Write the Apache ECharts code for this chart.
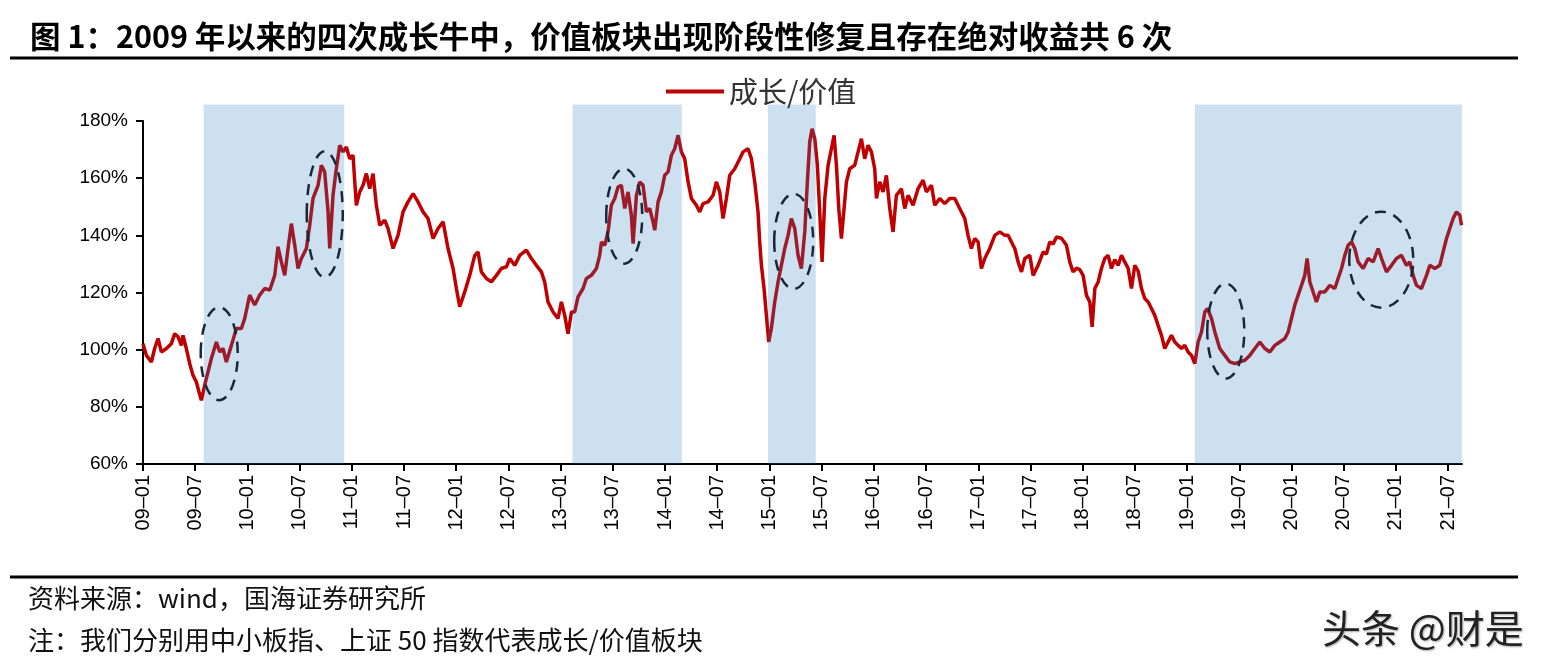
<!DOCTYPE html>
<html>
<head>
<meta charset="utf-8">
<title>成长/价值</title>
<script src="https://cdn.jsdelivr.net/npm/echarts@6/dist/echarts.min.js"></script>
<style>
  html, body { margin: 0; padding: 0; background: #fff; }
  #chart { width: 1546px; height: 670px; }
</style>
</head>
<body>
<div id="chart"></div>
<script>
// months since 2009-01 (x) and 成长/价值 ratio in % (y)
const months = [
  0, 0.39, 0.96, 1.34, 1.73, 2.11, 2.69, 3.26, 3.64, 4.03, 4.41, 4.6, 4.98, 5.37, 5.75, 6.13, 6.44, 6.71,
  7.09, 7.47, 7.86, 8.43, 8.82, 9.2, 9.58, 10.16, 10.73, 11.31, 11.69, 12.26, 12.84, 13.41, 13.99, 14.56,
  15.14, 15.52, 15.9, 16.29, 16.67, 17.05, 17.44, 17.82, 18.2, 18.78, 19.16, 19.54, 20.12, 20.5, 20.88,
  21.27, 21.46, 21.84, 22.22, 22.61, 22.99, 23.37, 23.76, 24.14, 24.52, 24.91, 25.29, 25.67, 26.06, 26.44,
  26.82, 27.21, 27.78, 28.16, 28.74, 29.31, 29.89, 30.46, 31.04, 31.61, 32.19, 32.76, 33.34, 33.91, 34.49,
  35.06, 35.64, 36.02, 36.4, 36.98, 37.55, 38.13, 38.51, 38.89, 39.47, 40.04, 40.62, 41.19, 41.77, 42.15,
  42.72, 43.3, 44.06, 44.64, 45.21, 45.79, 46.17, 46.55, 47.13, 47.7, 48.09, 48.47, 48.85, 49.24,
  49.62, 50.0, 50.58, 50.96, 51.54, 52.11, 52.49, 52.69, 53.07, 53.45, 53.83, 54.22, 54.6, 54.98, 55.37,
  55.75, 56.13, 56.33, 56.71, 57.09, 57.47, 57.86, 58.24, 58.62, 58.82, 59.2, 59.58, 59.96, 60.35, 60.73,
  61.11, 61.5, 61.88, 62.26, 62.65, 63.03, 63.6, 63.99, 64.37, 64.95, 65.52, 65.9, 66.29, 66.67, 67.05,
  67.44, 68.01, 68.59, 68.97, 69.54, 69.93, 70.31, 70.69, 70.88, 71.08, 71.38, 71.65, 71.92, 72.22, 72.61,
  72.99, 73.37, 73.76, 74.14, 74.52, 74.91, 75.29, 75.67, 76.06, 76.36, 76.63, 76.9, 77.21, 77.51, 77.78,
  78.05, 78.36, 78.74, 79.12, 79.43, 79.7, 79.97, 80.27, 80.58, 80.85, 81.23, 81.8, 82.19, 82.57, 82.95,
  83.34, 83.72, 84.1, 84.3, 84.68, 85.06, 85.44, 85.83, 86.21, 86.59, 87.17, 87.55, 87.93, 88.51, 89.08,
  89.66, 90.04, 90.62, 91.0, 91.57, 92.15, 92.72, 93.3, 93.87, 94.45, 94.83, 95.21, 95.6, 95.98, 96.36,
  96.75, 97.32, 97.9, 98.47, 99.05, 99.43, 100.0,
  100.2, 100.58, 100.97, 101.35, 101.92, 102.31, 102.88, 103.46, 103.84, 104.22, 104.61, 104.99, 105.56,
  106.14, 106.52, 106.9, 107.29, 107.67, 108.05, 108.44, 108.82, 109.09, 109.4, 109.78, 110.16, 110.54,
  110.93, 111.31, 111.69, 112.08, 112.46, 112.84, 113.23, 113.61, 113.99, 114.38, 114.76, 115.14, 115.53,
  115.91, 116.29, 116.67, 117.06, 117.44, 117.82, 118.21, 118.59, 118.97, 119.36, 119.74, 120.12, 120.51,
  120.89, 121.27, 121.66, 122.04, 122.35, 122.81, 123.19, 123.76, 124.34, 124.91, 125.49, 126.06, 126.64,
  127.21, 127.79, 128.36, 128.94, 129.51, 130.09, 130.66, 131.24, 131.62, 132.0, 132.38, 132.77, 133.15,
  133.53, 133.8, 134.11, 134.49, 134.87, 135.26, 135.83, 136.41, 136.98, 137.36, 137.75, 138.13, 138.51,
  138.9, 139.28, 139.66, 140.24, 140.81, 141.39, 141.96, 142.35, 142.92, 143.5, 144.07, 144.64, 145.22,
  145.6, 145.98, 146.37, 146.94, 147.52, 147.9, 148.48, 149.05, 149.43, 149.82, 150.2, 150.58, 150.96,
  151.35, 151.54
]
const ratio = [
  102.1, 98, 95.7, 100.4, 103.9, 99.2, 100.4, 102.1, 105.6, 104.5, 101.5, 105, 100.4, 95.1, 91, 88.7, 85.2, 82.3,
  87.6, 92.2, 96.9, 102.7, 99.2, 100.4, 95.7, 101.5, 107.4, 107.4, 110.9, 119.1, 115.6, 119.1, 121.4, 120.8,
  126, 136, 130.7, 126, 135.4, 144.1, 136.5, 128.4, 131.9, 135.4, 143.5, 152.9, 157.5, 164.5, 162.2,
  148.2, 135.4, 154, 163.3, 171.5, 169.2, 170.9, 166.8, 168, 150.5, 155.2, 157.5, 161.6, 156.3, 161.6,
  150.5, 143.5, 145.3, 142.4, 135.4, 140, 148.2, 151.7, 154.6, 151.7, 148.2, 145.9, 138.9, 142.4, 144.7,
  135.4, 128.4, 121.4, 115, 120.2, 126, 133, 134.2, 127.2, 124.9, 123.7, 126, 128.4, 129, 131.9,
  129.5, 133, 134.8, 131.9, 129.5, 127.2, 123.7, 116.7, 113.2, 110.9, 116.7, 112, 105.6, 113.2,
  113.2, 118.5, 121.4, 124.9, 126, 128.4, 133, 137.7, 136.5, 141.2, 150.5, 152.9, 156.9, 157.5, 149.4,
  155.2, 147, 137.1, 154, 158.7, 157.5, 148.2, 149.4, 144.7, 141.8, 151.7, 155.2, 161, 162.2, 168,
  170.3, 175, 169.2, 166.8, 158.7, 152.9, 150.5, 148.2, 151.1, 151.7, 154, 158.7, 155.2, 145.9, 152.9,
  161, 163.3, 166.8, 169.2, 170.3, 166.8, 158.7, 148.2, 137.7, 129.5, 121.4, 112, 102.7, 107.4, 116.7,
  123.7, 129.5, 135.4, 140, 145.9, 142.4, 133, 128.4, 141.2, 158.7, 172.7, 177.3, 173.8, 164.5, 148.2,
  130.7, 152.9, 164.5, 170.3, 175, 164.5, 149.4, 138.9, 149.4, 158.7, 163.3, 164.5, 169.2, 173.8, 166.8,
  171.5, 169.2, 163.3, 152.9, 158.7, 155.2, 161, 149.4, 141.2, 154, 156.3, 149.4, 154, 150.5, 156.3,
  159.3, 155.2, 157.5, 150.5, 152.9, 151.1, 152.9, 152.9, 149.4, 145.9, 140, 135.4, 138.9, 137.7, 128.4,
  131.9, 135.4, 140, 141.2, 140, 140, 136.5,
  135.4, 130.7, 127.2, 131.9, 133, 126, 129.5, 134.2, 133.5, 137.7, 137, 139.4, 139, 136.5, 130.7,
  127.2, 128.5, 128, 126, 119, 116.7, 108, 121.4, 123.7, 128.4, 131.9, 133, 128.4, 131.5, 129.5, 133,
  130.7, 128.4, 121.4, 129.5, 127.5, 121.4, 117.9, 116.7, 114.4, 112, 108.5, 105, 100.4, 102.7, 105,
  102.7, 101.5, 100.4, 101.5, 99.2, 98, 95.1, 102.7, 106.2, 113.2, 114.4, 110.9, 106.2, 100.4, 98,
  95.7, 95.1, 95.7, 96.3, 98, 100.4, 102.7, 100.4, 99.2, 101.5, 102.7, 103.9, 106.2, 110.9, 115.6,
  119.1, 122.5, 126, 131.9, 123.7, 120.2, 116.7, 120.2, 120.2, 122.5, 121.4, 124.9, 128.4, 133, 136.5,
  137.7, 135.4, 130.7, 128.4, 131.9, 130.7, 135.4, 131.9, 127.2, 129.5, 131.9, 133, 129.5, 130.7, 126,
  122.5, 121.4, 126, 129.5, 128.4, 129.5, 134.2, 138.9, 142.4, 145.9, 148.2, 147, 143.5
]
// x tick labels, one every six months from 09-01
const tickLabels = [
  '09–01', '09–07', '10–01', '10–07', '11–01', '11–07', '12–01', '12–07', '13–01', '13–07',
  '14–01', '14–07', '15–01', '15–07', '16–01', '16–07', '17–01', '17–07', '18–01', '18–07',
  '19–01', '19–07', '20–01', '20–07', '21–01', '21–07'
]
// shaded growth-bull periods [start month, end month]
const bullPeriods = [[6.98, 23.13], [49.36, 61.92], [71.84, 77.32], [120.89, 151.6]]
// dashed circles: [center month, center %, rx px, ry px]
const repairMarks = [
  [8.76, 98.6, 18.5, 46.5],
  [20.89, 147.4, 18, 63],
  [55.31, 146.7, 18, 47.5],
  [74.79, 137.9, 19.5, 47.5],
  [124.45, 106.5, 18.5, 47.5],
  [142.32, 131.5, 32, 48]
]

const lastMonth = 151.6
const shadeTop = 185.8
const cjk = '"Noto Sans CJK SC", sans-serif'
const latin = '"Liberation Sans", Arial, sans-serif'

const lineData = months.map((m, i) => [m, ratio[i]])

const chart = echarts.init(document.getElementById('chart'))

chart.setOption({
  animation: false,
  title: [
    {
      text: '图 1：2009 年以来的四次成长牛中，价值板块出现阶段性修复且存在绝对收益共 6 次',
      left: 30, top: 21, padding: 0,
      textStyle: { fontFamily: cjk, fontSize: 30.5, fontWeight: 'bold', color: '#000' }
    },
    {
      text: '资料来源：wind，国海证券研究所',
      left: 28, top: 585, padding: 0,
      textStyle: { fontFamily: cjk, fontSize: 26, fontWeight: 'normal', color: '#111' }
    },
    {
      text: '注：我们分别用中小板指、上证 50 指数代表成长/价值板块',
      left: 28, top: 627, padding: 0,
      textStyle: { fontFamily: cjk, fontSize: 26, fontWeight: 'normal', color: '#111' }
    },
    {
      text: '头条 @财是',
      left: 1322, top: 609, padding: 0,
      textStyle: {
        fontFamily: cjk, fontSize: 39, fontWeight: 'normal', color: '#222',
        textShadowColor: 'rgba(0,0,0,0.35)', textShadowBlur: 2, textShadowOffsetX: 1, textShadowOffsetY: 1
      }
    }
  ],
  legend: {
    data: ['成长/价值'],
    left: 666, top: 77, padding: 0,
    icon: 'rect', itemWidth: 58, itemHeight: 4, itemGap: 10,
    textStyle: { fontFamily: cjk, fontSize: 29, color: '#333' }
  },
  graphic: [
    { type: 'line', shape: { x1: 10, y1: 58, x2: 1518, y2: 58 }, style: { stroke: '#000', lineWidth: 3 } },
    { type: 'line', shape: { x1: 10, y1: 577, x2: 1518, y2: 577 }, style: { stroke: '#000', lineWidth: 3 } }
  ],
  grid: { left: 143, top: 121, width: 1319, height: 343, containLabel: false },
  xAxis: {
    type: 'value',
    min: 0,
    max: lastMonth,
    splitLine: { show: false },
    axisLine: { lineStyle: { color: '#000', width: 2 } },
    axisTick: {
      customValues: tickLabels.map((_, k) => k * 6),
      length: 7, lineStyle: { color: '#000', width: 2 }
    },
    axisLabel: {
      customValues: tickLabels.map((_, k) => k * 6),
      rotate: 90, margin: 11,
      fontFamily: latin, fontSize: 20, color: '#000',
      formatter: (v) => tickLabels[Math.round(v / 6)] || ''
    }
  },
  yAxis: {
    type: 'value',
    min: 60, max: 180, interval: 20,
    splitLine: { show: false },
    axisLine: { show: true, lineStyle: { color: '#000', width: 2 } },
    axisTick: { show: true, length: 7, lineStyle: { color: '#000', width: 2 } },
    axisLabel: { formatter: '{value}%', margin: 15, fontFamily: latin, fontSize: 19, color: '#000' }
  },
  series: [
    {
      name: '成长/价值',
      type: 'line',
      data: lineData,
      showSymbol: false,
      symbol: 'none',
      z: 2,
      itemStyle: { color: '#c00000' },
      lineStyle: { color: '#c00000', width: 3.5 }
    },
    {
      name: 'bull',
      type: 'custom',
      z: 3,
      silent: true,
      data: bullPeriods,
      renderItem: (params, api) => {
        const p0 = api.coord([api.value(0), shadeTop])
        const p1 = api.coord([api.value(1), 60])
        return {
          type: 'rect',
          shape: { x: p0[0], y: p0[1], width: p1[0] - p0[0], height: p1[1] - p0[1] },
          style: { fill: 'rgba(40,120,190,0.23)' }
        }
      }
    },
    {
      name: 'repair',
      type: 'custom',
      z: 4,
      silent: true,
      data: repairMarks,
      renderItem: (params, api) => {
        const c = api.coord([api.value(0), api.value(1)])
        return {
          type: 'ellipse',
          shape: { cx: c[0], cy: c[1], rx: api.value(2), ry: api.value(3) },
          style: { fill: 'none', stroke: '#17283a', lineWidth: 2.5, lineDash: [11, 8] }
        }
      }
    }
  ]
})
</script>
</body>
</html>
